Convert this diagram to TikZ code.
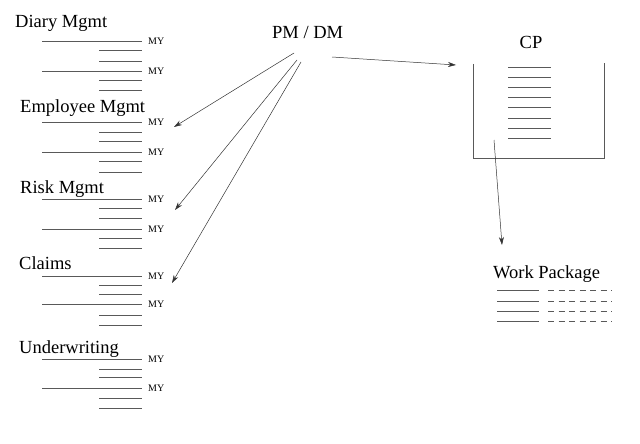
\documentclass[tikz,border=0pt]{standalone}
\usepackage{fontspec}
\setmainfont{Liberation Serif}
\usetikzlibrary{arrows.meta}
\begin{document}
\begin{tikzpicture}[x=1pt,y=-1pt,
  rule/.style={draw=black!65, line width=0.7pt},
  dashrule/.style={draw=black!65, line width=0.7pt, dash pattern=on 6pt off 4.5pt},
  title/.style={font=\fontsize{18.5}{20}\selectfont, inner sep=0pt, anchor=base west},
  mylabel/.style={font=\fontsize{10}{12}\selectfont, inner sep=0pt, anchor=west},
  conn/.style={draw=black!80, line width=0.5pt, -{Stealth[length=8pt,width=5pt]}}]
\useasboundingbox (0,0) rectangle (640,444);

% section titles
\node[title] (diary) at (15,28) {Diary Mgmt};
\node[title] (empl) at (20,112) {Employee Mgmt};
\node[title] (risk) at (20,193) {Risk Mgmt};
\node[title] (claims) at (19,269) {Claims};
\node[title] (uw) at (19,353) {Underwriting};

% line groups: long lines with MY, short lines
\foreach \ya/\yb/\yc/\yd/\ye/\yf in {41/50/61/71/80/90, 122/132/141/152/161/172, 199/208/218/229/238/248, 276/285/294/304/315/325, 359/369/377/388/398/408} {
  \draw[rule] (42,\ya) -- (142,\ya);
  \node[mylabel] at (148,\ya) {MY};
  \draw[rule] (99,\yb) -- (142,\yb);
  \draw[rule] (99,\yc) -- (142,\yc);
  \draw[rule] (42,\yd) -- (142,\yd);
  \node[mylabel] at (148,\yd) {MY};
  \draw[rule] (99,\ye) -- (142,\ye);
  \draw[rule] (99,\yf) -- (142,\yf);
}

% PM / DM
\node[title] (pmdm) at (272,39) {PM / DM};
\coordinate (s1) at (294,53);
\coordinate (s2) at (297,60);
\coordinate (s3) at (301,62);
\coordinate (s4) at (332,57);
\coordinate (e1) at (174,127);
\coordinate (e2) at (175,210);
\coordinate (e3) at (172,283);
\coordinate (e4) at (456,65);
\draw[conn] (s1) -- (e1);
\draw[conn] (s2) -- (e2);
\draw[conn] (s3) -- (e3);
\draw[conn] (s4) -- (e4);

% CP
\node[title, anchor=base] (cp) at (531,49) {CP};
\draw[rule] (473,64) -- (473,158) -- (604,158) -- (604,63);
\foreach \y in {67,77,87,97,107,118,128,138} {
  \draw[rule] (508,\y) -- (551,\y);
}
\coordinate (c1) at (494,140);
\coordinate (c2) at (502,245);
\draw[conn] (c1) -- (c2);

% Work Package
\node[title] (wp) at (493,278) {Work Package};
\foreach \y in {290,301,311,321} {
  \draw[rule] (497,\y) -- (539,\y);
  \draw[dashrule] (548,\y) -- (612,\y);
}
\end{tikzpicture}
\end{document}
